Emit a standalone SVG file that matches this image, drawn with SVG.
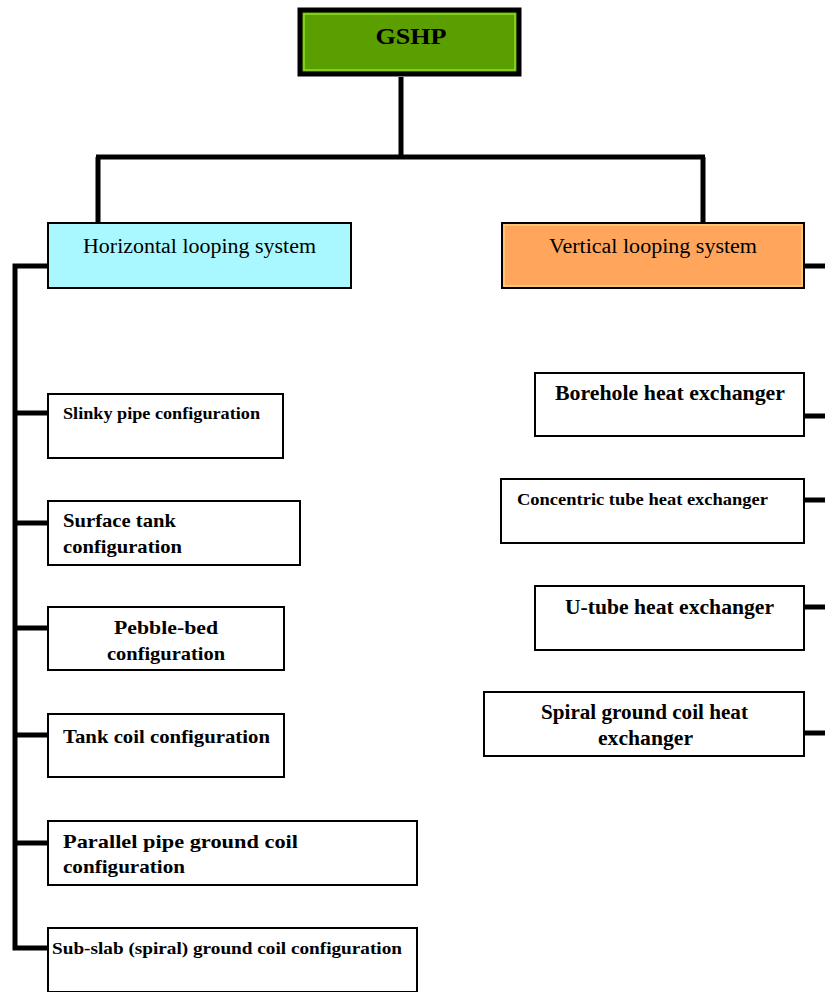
<svg xmlns="http://www.w3.org/2000/svg" width="825" height="992" viewBox="0 0 825 992">
  <style>
    .box { fill: #ffffff; stroke: #000000; stroke-width: 2; }
    .link { fill: none; stroke: #000000; stroke-width: 5; stroke-linecap: butt; }
    .t { font-family: "Liberation Serif", "Times New Roman", serif; font-weight: bold; fill: #000000; }
    .head { font-family: "Liberation Serif", "Times New Roman", serif; font-weight: normal; fill: #000000; font-size: 20px; }
  </style>
  <rect width="825" height="992" fill="#ffffff"/>

  <!-- connectors -->
  <g id="connectors">
    <path class="link" d="M401 77 V157 M96 157 H705 M98 157 V222 M703 157 V222"/>
    <path class="link" d="M47 266 H15 V948 H47"/>
    <path class="link" d="M15 413 H47 M15 523 H47 M15 628 H47 M15 735 H47 M15 843 H47"/>
    <path class="link" d="M804 266 H825 M804 416 H825 M804 500 H825 M804 607 H825 M804 733 H825"/>
  </g>

  <!-- root -->
  <g id="gshp">
    <rect x="300" y="10" width="219" height="64" fill="#5a9e00" stroke="#000000" stroke-width="5"/>
    <rect x="304" y="14" width="211" height="56" fill="none" stroke="#8ee21a" stroke-width="1.5"/>
    <text class="t" x="411" y="44" font-size="24" text-anchor="middle" textLength="71" lengthAdjust="spacingAndGlyphs">GSHP</text>
  </g>

  <!-- first level -->
  <g id="horizontal">
    <rect x="48" y="223" width="303" height="65" fill="#aaf8ff" stroke="#000000" stroke-width="2"/>
    <text class="head" x="83" y="253" textLength="233" lengthAdjust="spacingAndGlyphs">Horizontal  looping  system</text>
  </g>
  <g id="vertical">
    <rect x="502" y="223" width="302" height="65" fill="#ffa65c" stroke="#000000" stroke-width="2"/>
    <rect x="504" y="225" width="298" height="61" fill="none" stroke="#ffe08a" stroke-width="1"/>
    <text class="head" x="549" y="253" textLength="208" lengthAdjust="spacingAndGlyphs">Vertical  looping  system</text>
  </g>

  <!-- horizontal looping configurations -->
  <g id="slinky">
    <rect class="box" x="48" y="394" width="235" height="64"/>
    <text class="t" x="63" y="419" font-size="17" textLength="197" lengthAdjust="spacingAndGlyphs">Slinky pipe  configuration</text>
  </g>
  <g id="surface-tank">
    <rect class="box" x="48" y="501" width="252" height="64"/>
    <text class="t" x="63" y="527" font-size="19" textLength="113" lengthAdjust="spacingAndGlyphs">Surface tank</text>
    <text class="t" x="63" y="553" font-size="19" textLength="119" lengthAdjust="spacingAndGlyphs">configuration</text>
  </g>
  <g id="pebble-bed">
    <rect class="box" x="48" y="607" width="236" height="63"/>
    <text class="t" x="114" y="634" font-size="19" textLength="104" lengthAdjust="spacingAndGlyphs">Pebble-bed</text>
    <text class="t" x="107" y="660" font-size="19" textLength="118" lengthAdjust="spacingAndGlyphs">configuration</text>
  </g>
  <g id="tank-coil">
    <rect class="box" x="48" y="714" width="236" height="63"/>
    <text class="t" x="63" y="743" font-size="19" textLength="207" lengthAdjust="spacingAndGlyphs">Tank coil configuration</text>
  </g>
  <g id="parallel-pipe">
    <rect class="box" x="48" y="821" width="369" height="64"/>
    <text class="t" x="63" y="848" font-size="19" textLength="235" lengthAdjust="spacingAndGlyphs">Parallel pipe  ground  coil</text>
    <text class="t" x="63" y="873" font-size="19" textLength="122" lengthAdjust="spacingAndGlyphs">configuration</text>
  </g>
  <g id="sub-slab">
    <rect class="box" x="48" y="928" width="369" height="64"/>
    <text class="t" x="52" y="954" font-size="17" textLength="350" lengthAdjust="spacingAndGlyphs">Sub-slab  (spiral) ground  coil configuration</text>
  </g>

  <!-- vertical looping heat exchangers -->
  <g id="borehole">
    <rect class="box" x="535" y="373" width="269" height="63"/>
    <text class="t" x="555" y="400" font-size="20" textLength="230" lengthAdjust="spacingAndGlyphs">Borehole heat exchanger</text>
  </g>
  <g id="concentric">
    <rect class="box" x="501" y="479" width="303" height="64"/>
    <text class="t" x="517" y="505" font-size="17" textLength="251" lengthAdjust="spacingAndGlyphs">Concentric tube  heat exchanger</text>
  </g>
  <g id="u-tube">
    <rect class="box" x="535" y="586" width="269" height="64"/>
    <text class="t" x="565" y="614" font-size="20" textLength="209" lengthAdjust="spacingAndGlyphs">U-tube heat exchanger</text>
  </g>
  <g id="spiral">
    <rect class="box" x="484" y="692" width="320" height="64"/>
    <text class="t" x="541" y="719" font-size="20" textLength="207" lengthAdjust="spacingAndGlyphs">Spiral ground coil heat</text>
    <text class="t" x="598" y="745" font-size="20" textLength="95" lengthAdjust="spacingAndGlyphs">exchanger</text>
  </g>
</svg>
